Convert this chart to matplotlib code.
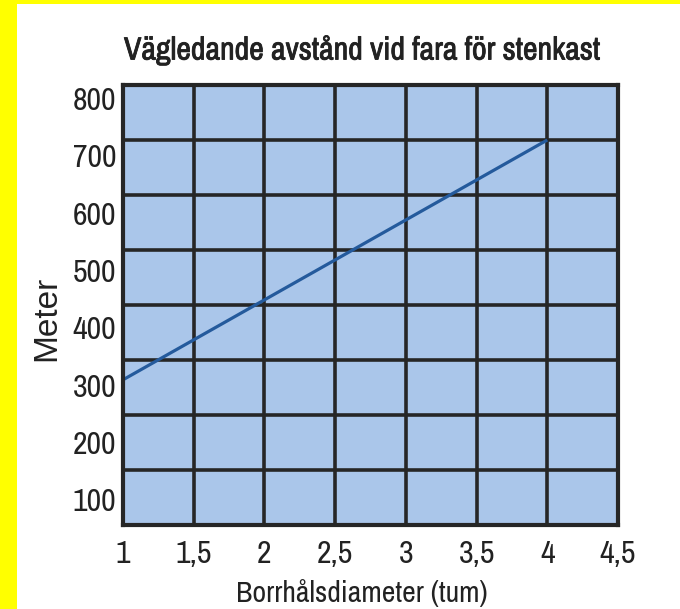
import matplotlib
matplotlib.use("Agg")
import matplotlib.pyplot as plt
import matplotlib.patheffects as pe
from matplotlib.patches import Rectangle

# data
diameter = [1, 4]            # tum
distance = [264, 700]        # meter
x_ticks = [1, 1.5, 2, 2.5, 3, 3.5, 4, 4.5]
x_tick_labels = ["1", "1,5", "2", "2,5", "3", "3,5", "4", "4,5"]
y_grid = [0, 100, 200, 300, 400, 500, 600, 700, 800]
y_tick_labels = ["100", "200", "300", "400", "500", "600", "700", "800"]

# narrow grotesque, close to the Arial Narrow look of the original
plt.rcParams["font.family"] = ["Archivo Narrow", "Liberation Sans", "DejaVu Sans"]

TXT = "#222222"
GRID = "#262626"
FACE = "#aac6ea"
LINE = "#245a9c"

fig = plt.figure(figsize=(6.8, 6.09), dpi=100)
# yellow page margin visible at the left and top of the scan
fig.patches.append(Rectangle((0, 0), 17 / 680, 1, transform=fig.transFigure,
                             facecolor="#ffff00", edgecolor="none", zorder=0))
fig.patches.append(Rectangle((0, 1 - 4 / 609), 1, 4 / 609, transform=fig.transFigure,
                             facecolor="#ffff00", edgecolor="none", zorder=0))

ax = fig.add_axes([123 / 680, 1 - 525 / 609, 495 / 680, 440 / 609])
ax.set_facecolor(FACE)
ax.plot(diameter, distance, color=LINE, lw=2.3, solid_capstyle="butt", zorder=3)

ax.set_xlim(1, 4.5)
ax.set_ylim(0, 800)
ax.set_xticks(x_ticks)
ax.set_xticklabels(x_tick_labels)
ax.set_yticks(y_grid)
ax.set_yticklabels([""] * len(y_grid))
# the labels in the original sit a bit off the grid lines
label_pos = [46 + (int(v) - 100) * 1.042 for v in y_tick_labels]
ax.set_yticks(label_pos, minor=True)
ax.set_yticklabels(y_tick_labels, minor=True)

ax.grid(True, color=GRID, lw=2.6, zorder=2)
ax.set_axisbelow(True)
for sp in ax.spines.values():
    sp.set_color(GRID)
    sp.set_linewidth(3.0)
    sp.set_zorder(4)

ax.tick_params(axis="both", which="both", length=0, colors=TXT, labelsize=23)
ax.tick_params(axis="x", pad=11)
ax.tick_params(axis="y", which="minor", pad=5)

ax.set_xlabel("Borrhålsdiameter (tum)", fontsize=21.5, color=TXT)
ax.xaxis.set_label_coords(0.483, -0.122)
ax.set_ylabel("Meter", fontsize=24, color=TXT,
              family=["Liberation Sans", "DejaVu Sans"])
ax.yaxis.set_label_coords(-0.123, 0.47)

fig.text(362 / 680, 1 - 50 / 609, "Vägledande avstånd vid fara för stenkast",
         ha="center", va="center", fontsize=23, color=TXT,
         path_effects=[pe.withStroke(linewidth=0.6, foreground=TXT)])

fig.savefig("out.png", dpi=100)
